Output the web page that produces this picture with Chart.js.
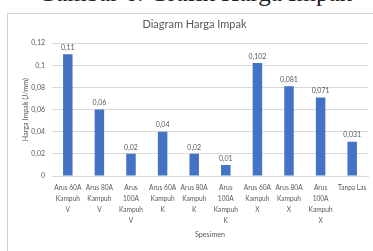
<!DOCTYPE html>
<html>
<head>
<meta charset="utf-8">
<script src="https://cdn.jsdelivr.net/npm/chart.js@4.4.0/dist/chart.umd.min.js"></script>
<style>
  html, body { margin: 0; padding: 0; background: #fff; overflow: hidden; }
  body { width: 373px; height: 251px; position: relative; }
  #caption {
    position: absolute; left: 0; width: 390px; top: -20px;
    font: 25px/25px "Liberation Serif", "DejaVu Serif", serif;
    color: #222; text-align: center; white-space: nowrap;
  }
  #frame {
    position: absolute; left: 7px; top: 13px; width: 366px; height: 238px;
    border-left: 1px solid #d4d4d4; border-top: 1px solid #d4d4d4;
  }
  #chart { display: block; }
</style>
</head>
<body>
<div id="caption">Gambar 6. Grafik Harga Impak</div>
<div id="frame"><canvas id="chart" width="365" height="237"></canvas></div>
<script>
// ===== データ =====
const categories = [
  ["Arus 60A", "Kampuh", "V"],
  ["Arus 80A", "Kampuh", "V"],
  ["Arus", "100A", "Kampuh", "V"],
  ["Arus 60A", "Kampuh", "K"],
  ["Arus 80A", "Kampuh", "K"],
  ["Arus", "100A", "Kampuh", "K"],
  ["Arus 60A", "Kampuh", "X"],
  ["Arus 80A", "Kampuh", "X"],
  ["Arus", "100A", "Kampuh", "X"],
  ["Tanpa Las"]
];
const hargaImpak = [0.11, 0.06, 0.02, 0.04, 0.02, 0.01, 0.102, 0.081, 0.071, 0.031];
const yTicks = [0, 0.02, 0.04, 0.06, 0.08, 0.1, 0.12];

const textColor = "#595959";
const fontFamily = "Lato, 'Open Sans', sans-serif";

function koma(v) {
  return String(Number(v.toFixed(3))).replace(".", ",");
}

// ===== 棒の上に値を描く =====
const valueLabels = {
  id: "valueLabels",
  afterDatasetsDraw(chart) {
    const ctx = chart.ctx;
    const meta = chart.getDatasetMeta(0);
    ctx.save();
    ctx.fillStyle = textColor;
    ctx.font = "7px " + fontFamily;
    ctx.textAlign = "center";
    ctx.textBaseline = "bottom";
    meta.data.forEach((bar, i) => {
      ctx.fillText(koma(hargaImpak[i]), bar.x, bar.y - 3);
    });
    ctx.restore();
  }
};

new Chart(document.getElementById("chart"), {
  type: "bar",
  data: {
    labels: categories,
    datasets: [{
      data: hargaImpak,
      backgroundColor: "#4472C4",
      barPercentage: 0.3,
      categoryPercentage: 1
    }]
  },
  options: {
    responsive: false,
    animation: false,
    layout: { padding: { left: 13, right: 5, top: 0, bottom: 12 } },
    plugins: {
      legend: { display: false },
      tooltip: { enabled: false },
      title: {
        display: true,
        text: "Diagram Harga Impak",
        color: textColor,
        font: { family: fontFamily, size: 11, weight: "normal" },
        padding: { top: 4, bottom: 12 }
      }
    },
    scales: {
      x: {
        grid: { display: false, drawTicks: false },
        border: { display: true, color: "#d9d9d9" },
        ticks: {
          color: textColor,
          font: { family: fontFamily, size: 6.6, lineHeight: 1.7 },
          maxRotation: 0,
          autoSkip: false,
          padding: 6
        },
        title: {
          display: true,
          text: "Spesimen",
          color: textColor,
          font: { family: fontFamily, size: 7.2 },
          padding: 0
        },
        afterFit(scale) { scale.height = 63; }
      },
      y: {
        min: 0,
        max: 0.12,
        afterBuildTicks(scale) { scale.ticks = yTicks.map(v => ({ value: v })); },
        grid: { color: "#d9d9d9", drawTicks: false },
        border: { display: false },
        ticks: {
          color: textColor,
          font: { family: fontFamily, size: 7 },
          padding: 7,
          callback: v => koma(v)
        },
        title: {
          display: true,
          text: "Harga Impak (J/mm)",
          color: textColor,
          font: { family: fontFamily, size: 7.2 },
          padding: 0
        },
        afterFit(scale) { scale.width = 31; }
      }
    }
  },
  plugins: [valueLabels]
});
</script>
</body>
</html>
